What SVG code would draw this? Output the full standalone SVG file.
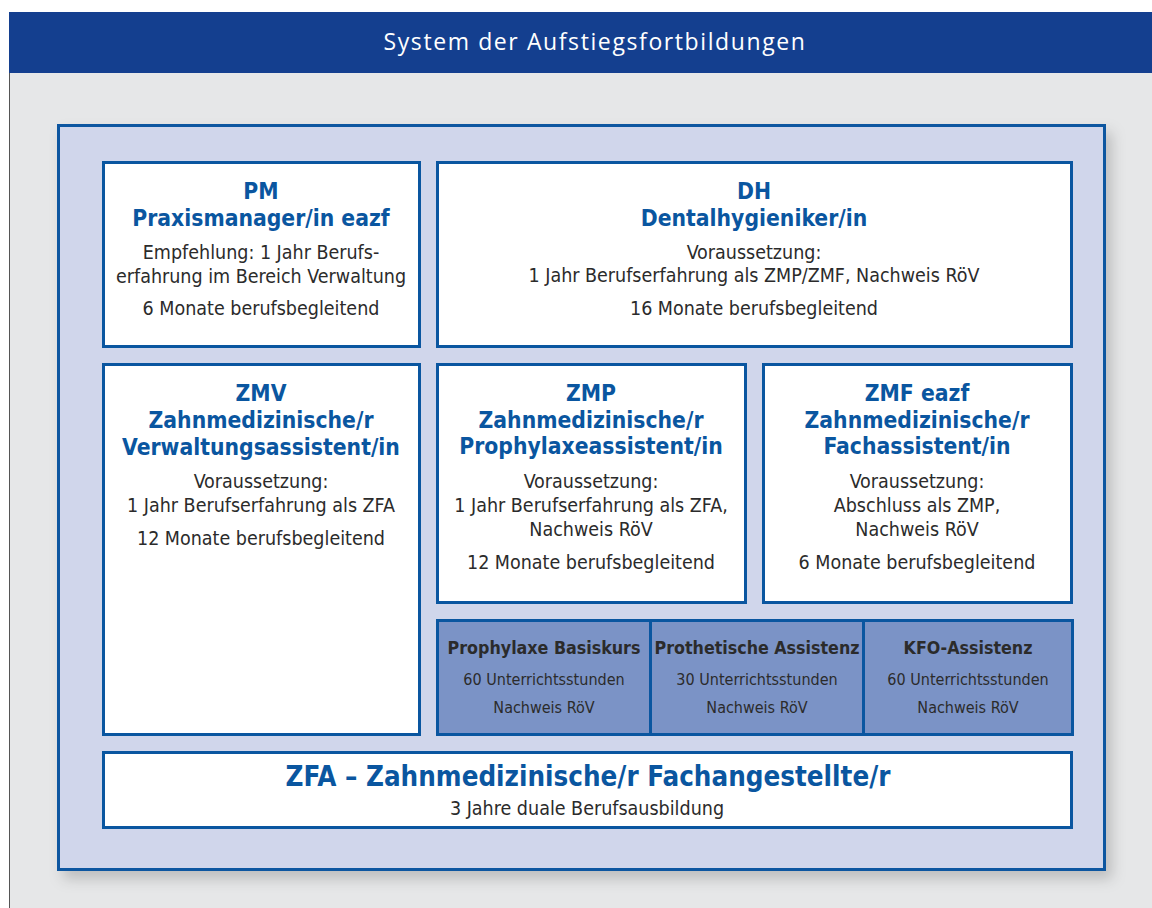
<svg xmlns="http://www.w3.org/2000/svg" width="1152" height="908" viewBox="0 0 1152 908">
<defs>
<filter id="sh" x="-5%" y="-5%" width="115%" height="115%">
<feDropShadow dx="6" dy="8" stdDeviation="7" flood-color="#000" flood-opacity="0.18"/>
</filter>
<style>
.box{fill:#fff;stroke:#0a56a0;stroke-width:3}
.course{fill:#7b93c6;stroke:#0a56a0;stroke-width:3}
text{font-family:"Liberation Sans Narrow","DejaVu Sans Condensed","Liberation Sans",sans-serif;text-anchor:middle}
.t{font-size:22.7px;font-weight:bold;fill:#0a56a0}
.b{font-size:19.5px;fill:#2b2b2b}
.ct{font-size:17.7px;font-weight:bold;fill:#2b2b2b}
.cs{font-size:16px;fill:#2b2b2b}
</style>
</defs>
<rect x="0" y="0" width="1152" height="908" fill="#fff"/>
<rect x="9" y="12" width="1143" height="896" fill="#e6e7e8"/>
<line x1="9.5" y1="12" x2="9.5" y2="908" stroke="#555" stroke-width="1"/>
<g id="header">
<rect x="9" y="12" width="1143" height="61" fill="#143f8f"/>
<text x="595" y="50" style="font-family:'Open Sans','Liberation Sans',sans-serif;font-size:23px;fill:#fff;letter-spacing:1.6px">System der Aufstiegsfortbildungen</text>
</g>
<g id="frame">
<rect x="58.5" y="125.5" width="1046" height="744" fill="#d0d6eb" stroke="#0a56a0" stroke-width="3" filter="url(#sh)"/>
</g>
<g id="pm">
<rect class="box" x="103.5" y="162.5" width="316" height="184"/>
<text class="t" x="261" y="199">PM</text>
<text class="t" x="261" y="226">Praxismanager/in eazf</text>
<text class="b" x="261" y="259">Empfehlung: 1 Jahr Berufs-</text>
<text class="b" x="261" y="283">erfahrung im Bereich Verwaltung</text>
<text class="b" x="261" y="315">6 Monate berufsbegleitend</text>
</g>
<g id="dh">
<rect class="box" x="437.5" y="162.5" width="634" height="184"/>
<text class="t" x="754" y="199">DH</text>
<text class="t" x="754" y="226">Dentalhygieniker/in</text>
<text class="b" x="754" y="259">Voraussetzung:</text>
<text class="b" x="754" y="282">1 Jahr Berufserfahrung als ZMP/ZMF, Nachweis RöV</text>
<text class="b" x="754" y="315">16 Monate berufsbegleitend</text>
</g>
<g id="zmv">
<rect class="box" x="103.5" y="364.5" width="316" height="370"/>
<text class="t" x="261" y="401">ZMV</text>
<text class="t" x="261" y="428">Zahnmedizinische/r</text>
<text class="t" x="261" y="455">Verwaltungsassistent/in</text>
<text class="b" x="261" y="488">Voraussetzung:</text>
<text class="b" x="261" y="512">1 Jahr Berufserfahrung als ZFA</text>
<text class="b" x="261" y="545">12 Monate berufsbegleitend</text>
</g>
<g id="zmp">
<rect class="box" x="437.5" y="364.5" width="308" height="238"/>
<text class="t" x="591" y="401">ZMP</text>
<text class="t" x="591" y="428">Zahnmedizinische/r</text>
<text class="t" x="591" y="454">Prophylaxeassistent/in</text>
<text class="b" x="591" y="488">Voraussetzung:</text>
<text class="b" x="591" y="512">1 Jahr Berufserfahrung als ZFA,</text>
<text class="b" x="591" y="536">Nachweis RöV</text>
<text class="b" x="591" y="569">12 Monate berufsbegleitend</text>
</g>
<g id="zmf">
<rect class="box" x="763.5" y="364.5" width="308" height="238"/>
<text class="t" x="917" y="401">ZMF eazf</text>
<text class="t" x="917" y="428">Zahnmedizinische/r</text>
<text class="t" x="917" y="454">Fachassistent/in</text>
<text class="b" x="917" y="488">Voraussetzung:</text>
<text class="b" x="917" y="512">Abschluss als ZMP,</text>
<text class="b" x="917" y="536">Nachweis RöV</text>
<text class="b" x="917" y="569">6 Monate berufsbegleitend</text>
</g>
<g id="prophylaxe">
<rect class="course" x="437.5" y="620.5" width="213" height="114"/>
<text class="ct" x="544" y="654">Prophylaxe Basiskurs</text>
<text class="cs" x="544" y="685">60 Unterrichtsstunden</text>
<text class="cs" x="544" y="713">Nachweis RöV</text>
</g>
<g id="prothetik">
<rect class="course" x="650.5" y="620.5" width="213" height="114"/>
<text class="ct" x="757" y="654">Prothetische Assistenz</text>
<text class="cs" x="757" y="685">30 Unterrichtsstunden</text>
<text class="cs" x="757" y="713">Nachweis RöV</text>
</g>
<g id="kfo">
<rect class="course" x="863.5" y="620.5" width="209" height="114"/>
<text class="ct" x="968" y="654">KFO-Assistenz</text>
<text class="cs" x="968" y="685">60 Unterrichtsstunden</text>
<text class="cs" x="968" y="713">Nachweis RöV</text>
</g>
<g id="zfa">
<rect class="box" x="103.5" y="752.5" width="968" height="75"/>
<text class="t" x="588" y="786" style="font-size:27.5px">ZFA – Zahnmedizinische/r Fachangestellte/r</text>
<text class="b" x="587" y="815">3 Jahre duale Berufsausbildung</text>
</g>
<g id="connectors"></g>
</svg>
